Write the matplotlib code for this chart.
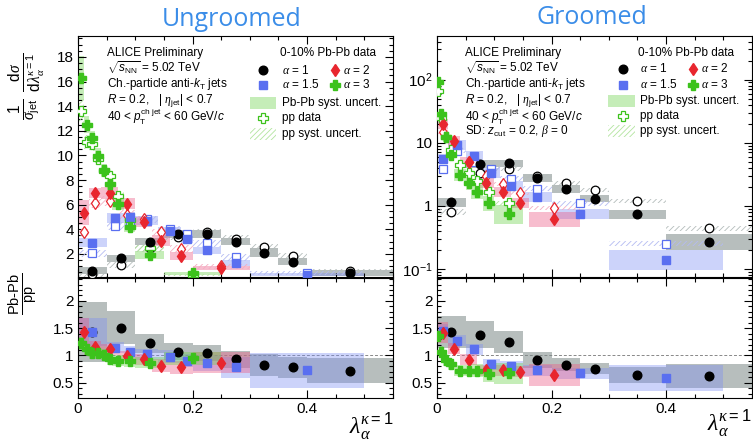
import matplotlib
matplotlib.use('Agg')
import matplotlib.pyplot as plt
import numpy as np
from matplotlib.patches import Rectangle
from matplotlib.lines import Line2D
from matplotlib.ticker import MultipleLocator, FuncFormatter, LogLocator, NullFormatter, FixedLocator

plt.rcParams['font.family'] = ['Liberation Sans', 'DejaVu Sans']
plt.rcParams['mathtext.fontset'] = 'custom'
plt.rcParams['mathtext.rm'] = 'Liberation Sans'
plt.rcParams['mathtext.it'] = 'Liberation Sans:italic'
plt.rcParams['mathtext.bf'] = 'Liberation Sans:bold'
plt.rcParams['mathtext.sf'] = 'Liberation Serif:italic'
plt.rcParams['hatch.linewidth'] = 0.6

# ---------------- data: ungroomed ----------------
UG_A1_EDGES = [0, 0.05, 0.1, 0.15, 0.2, 0.25, 0.3, 0.35, 0.4, 0.55]
UG_A1_PBPB = [0.65, 1.65, 3.0, 3.63, 3.63, 3.0, 2.1, 1.37, 0.43]
UG_A1_PBPB_SYST = [0.3, 0.3, 0.3, 0.3, 0.3, 0.3, 0.35, 0.3, 0.25]
UG_A1_PP = [0.4, 1.1, 2.45, 3.4, 3.75, 3.2, 2.55, 1.85, 0.6]
UG_A1_PP_SYST = [0.25, 0.25, 0.3, 0.3, 0.3, 0.3, 0.3, 0.25, 0.15]
UG_A1_RATIO = [1.43, 1.51, 1.22, 1.07, 1.04, 0.93, 0.82, 0.78, 0.72]
UG_A1_RATIO_SYST = [0.55, 0.3, 0.18, 0.15, 0.15, 0.16, 0.2, 0.2, 0.23]

UG_A15_EDGES = [0, 0.05, 0.08, 0.1, 0.14, 0.18, 0.2, 0.25, 0.3, 0.5]
UG_A15_PBPB = [2.92, 4.9, 5.0, 4.7, 3.87, 3.2, 2.3, 1.25, 0.3]
UG_A15_PBPB_SYST = [0.35, 0.4, 0.4, 0.35, 0.35, 0.3, 0.3, 0.25, 0.12]
UG_A15_PP = [2.05, 4.27, 4.6, 4.8, 4.0, 3.6, 2.87, 1.73, 0.45]
UG_A15_PP_SYST = [0.3, 0.35, 0.35, 0.3, 0.3, 0.3, 0.3, 0.3, 0.15]
UG_A15_RATIO = [1.43, 1.14, 1.07, 1.02, 0.98, 0.9, 0.86, 0.78, 0.73]
UG_A15_RATIO_SYST = [0.25, 0.1, 0.1, 0.1, 0.12, 0.12, 0.15, 0.2, 0.32]

UG_A2_EDGES = [0, 0.02, 0.04, 0.07, 0.1, 0.13, 0.16, 0.2, 0.3]
UG_A2_PBPB = [5.35, 6.93, 6.93, 6.07, 4.6, 3.08, 1.84, 0.84]
UG_A2_PBPB_SYST = [1.0, 0.4, 0.5, 0.45, 0.4, 0.45, 0.35, 0.18]
UG_A2_PP = [3.76, 6.12, 6.3, 5.2, 4.8, 3.76, 2.4, 1.0]
UG_A2_PP_SYST = [0.3, 0.35, 0.4, 0.35, 0.3, 0.3, 0.3, 0.2]
UG_A2_RATIO = [1.43, 1.15, 1.11, 0.99, 0.93, 0.81, 0.78, 0.87]
UG_A2_RATIO_SYST = [0.25, 0.12, 0.1, 0.1, 0.1, 0.12, 0.12, 0.2]

UG_A3_EDGES = [0, 0.01, 0.02, 0.03, 0.04, 0.05, 0.06, 0.08, 0.1, 0.15, 0.25]
UG_A3_PBPB = [16.3, 12.5, 11.4, 9.97, 8.83, 7.7, 6.07, 4.2, 1.92, 0.43]
UG_A3_PBPB_SYST = [1.8, 0.7, 0.6, 0.6, 0.5, 0.5, 0.5, 0.4, 0.35, 0.12]
UG_A3_PP = [13.6, 11.1, 10.9, 9.7, 8.7, 8.3, 6.7, 4.76, 2.46, 0.3]
UG_A3_PP_SYST = [1.0, 0.6, 0.5, 0.5, 0.5, 0.5, 0.4, 0.35, 0.3, 0.1]
UG_A3_RATIO = [1.22, 1.11, 1.04, 1.04, 1.01, 0.93, 0.9, 0.89, 0.87, 0.95]
UG_A3_RATIO_SYST = [0.12, 0.1, 0.1, 0.1, 0.1, 0.1, 0.1, 0.1, 0.1, 0.12]

# ---------------- data: groomed (relative syst) ----------------
GR_A1_EDGES = [0, 0.05, 0.1, 0.15, 0.2, 0.25, 0.3, 0.4, 0.55]
GR_A1_PBPB = [1.13, 4.6, 4.7, 2.78, 1.84, 1.3, 0.73, 0.27]
GR_A1_PBPB_SYST = [0.18, 0.15, 0.15, 0.15, 0.15, 0.15, 0.17, 0.33]
GR_A1_PP = [0.8, 3.3, 3.8, 3.0, 2.26, 1.78, 1.19, 0.44]
GR_A1_PP_SYST = [0.1, 0.08, 0.08, 0.08, 0.08, 0.08, 0.08, 0.1]
GR_A1_RATIO = [1.43, 1.38, 1.25, 0.92, 0.83, 0.76, 0.64, 0.62]
GR_A1_RATIO_SYST = [0.3, 0.25, 0.2, 0.15, 0.12, 0.1, 0.15, 0.22]

GR_A15_EDGES = [0, 0.02, 0.05, 0.08, 0.11, 0.15, 0.2, 0.3, 0.5]
GR_A15_PBPB = [5.6, 9.2, 6.1, 3.26, 2.08, 1.39, 0.73, 0.14]
GR_A15_PBPB_SYST = [0.2, 0.2, 0.2, 0.2, 0.2, 0.2, 0.2, 0.45]
GR_A15_PP = [3.9, 7.5, 5.0, 3.9, 2.7, 1.88, 1.09, 0.25]
GR_A15_PP_SYST = [0.08, 0.08, 0.08, 0.08, 0.08, 0.08, 0.08, 0.1]
GR_A15_RATIO = [1.45, 1.27, 1.11, 0.84, 0.8, 0.73, 0.67, 0.58]
GR_A15_RATIO_SYST = [0.12, 0.1, 0.1, 0.1, 0.1, 0.1, 0.1, 0.24]

GR_A2_EDGES = [0, 0.02, 0.04, 0.07, 0.1, 0.13, 0.16, 0.25]
GR_A2_PBPB = [20, 10.7, 5.0, 2.26, 1.67, 1.09, 0.61]
GR_A2_PBPB_SYST = [0.2, 0.2, 0.2, 0.2, 0.2, 0.2, 0.33]
GR_A2_PP = [15, 9.0, 5.0, 3.0, 2.2, 1.62, 0.93]
GR_A2_PP_SYST = [0.08, 0.08, 0.08, 0.08, 0.08, 0.08, 0.08]
GR_A2_RATIO = [1.42, 1.12, 0.92, 0.73, 0.73, 0.7, 0.64]
GR_A2_RATIO_SYST = [0.2, 0.1, 0.1, 0.1, 0.1, 0.1, 0.2]

GR_A3_EDGES = [0, 0.005, 0.01, 0.02, 0.03, 0.05, 0.06, 0.08, 0.1, 0.15]
GR_A3_PBPB = [93, 28, 12.4, 6.5, 3.07, 2.26, 1.67, 1.09, 0.73]
GR_A3_PBPB_SYST = [0.15, 0.2, 0.2, 0.2, 0.25, 0.25, 0.3, 0.3, 0.4]
GR_A3_PP = [66, 25, 12.5, 7.6, 4.4, 3.26, 2.5, 1.67, 1.09]
GR_A3_PP_SYST = [0.08, 0.08, 0.08, 0.08, 0.08, 0.08, 0.08, 0.08, 0.08]
GR_A3_RATIO = [1.36, 1.07, 0.91, 0.84, 0.72, 0.72, 0.72, 0.66, 0.67]
GR_A3_RATIO_SYST = [0.1, 0.1, 0.1, 0.1, 0.1, 0.1, 0.12, 0.15, 0.2]

ALPHA_LABELS = ['1', '1.5', '2', '3']

# ---------------- styles ----------------
STYLES = [
    dict(color='black', marker='o', ms=6.2, fill='#7d8a88', falpha=0.55, hatch='#b4bcbb'),
    dict(color='#5a6ff0', marker='s', ms=5.6, fill='#7b8cf2', falpha=0.38, hatch='#b4bbf2'),
    dict(color='#e8262e', marker='d', ms=6.5, fill='#ec5a85', falpha=0.40, hatch='#f4adc2'),
    dict(color='#3cc21c', marker='P', ms=7.5, fill='#6fd24f', falpha=0.40, hatch='#b2e49e'),
]

W, H = 753, 440
fig = plt.figure(figsize=(W / 100, H / 100), dpi=100)


def fx(px):
    return px / W


def fy(py):
    return 1 - py / H


def add_axes(l, r, t, b):
    return fig.add_axes([l / W, 1 - b / H, (r - l) / W, (b - t) / H])


def centers(edges):
    e = np.asarray(edges, float)
    return 0.5 * (e[1:] + e[:-1])


def boxes(ax, edges, vals, syst, rel, z, **kw):
    e = np.asarray(edges, float)
    for i, v in enumerate(vals):
        if rel:
            lo, hi = v / (1 + syst[i]), v * (1 + syst[i])
        else:
            lo, hi = v - syst[i], v + syst[i]
        ax.add_patch(Rectangle((e[i], lo), e[i + 1] - e[i], hi - lo, zorder=z, **kw))


def style_axes(ax):
    ax.tick_params(which='both', direction='in', top=True, right=True, width=0.8,
                   labelsize=11, pad=3)
    ax.tick_params(which='major', length=5.5)
    ax.tick_params(which='minor', length=2.8)
    for s in ax.spines.values():
        s.set_linewidth(0.8)
    ax.xaxis.set_major_locator(MultipleLocator(0.2))
    ax.xaxis.set_minor_locator(MultipleLocator(0.05))


def fmt_g(v, pos):
    return '%g' % v


def panel(ax_top, ax_rat, series, log):
    for (edges, pb, pbs, pp, pps, rat, rats), st in zip(series, STYLES):
        boxes(ax_top, edges, pb, pbs, log, 1, facecolor=st['fill'], alpha=st['falpha'], lw=0)
        boxes(ax_top, edges, pp, pps, log, 2, fill=False, hatch='//////',
              edgecolor=st['hatch'], lw=0)
        boxes(ax_rat, edges, rat, rats, False, 1, facecolor=st['fill'], alpha=st['falpha'], lw=0)
    for (edges, pb, pbs, pp, pps, rat, rats), st in zip(series, STYLES):
        c = centers(edges)
        ax_top.plot(c, pp, ls='none', marker=st['marker'], ms=st['ms'], mfc='white',
                    mec=st['color'], mew=0.9, zorder=3)
    for (edges, pb, pbs, pp, pps, rat, rats), st in zip(series, STYLES):
        c = centers(edges)
        ax_top.plot(c, pb, ls='none', marker=st['marker'], ms=st['ms'], color=st['color'],
                    mec=st['color'], zorder=4)
        ax_rat.plot(c, rat, ls='none', marker=st['marker'], ms=st['ms'], color=st['color'],
                    mec=st['color'], zorder=4)
    ax_rat.axhline(1.0, color='#888888', lw=0.7, ls=(0, (3, 2)), zorder=0.5)
    for ax in (ax_top, ax_rat):
        ax.set_xlim(0, 0.55)
        style_axes(ax)
    ax_top.tick_params(labelbottom=False)
    ax_rat.set_ylim(0.22, 2.42)
    ax_rat.yaxis.set_major_locator(FixedLocator([0.5, 1, 1.5, 2]))
    ax_rat.yaxis.set_minor_locator(MultipleLocator(0.1))
    ax_rat.yaxis.set_major_formatter(FuncFormatter(fmt_g))
    ax_rat.xaxis.set_major_formatter(FuncFormatter(fmt_g))


ug_series = [
    (UG_A1_EDGES, UG_A1_PBPB, UG_A1_PBPB_SYST, UG_A1_PP, UG_A1_PP_SYST, UG_A1_RATIO, UG_A1_RATIO_SYST),
    (UG_A15_EDGES, UG_A15_PBPB, UG_A15_PBPB_SYST, UG_A15_PP, UG_A15_PP_SYST, UG_A15_RATIO, UG_A15_RATIO_SYST),
    (UG_A2_EDGES, UG_A2_PBPB, UG_A2_PBPB_SYST, UG_A2_PP, UG_A2_PP_SYST, UG_A2_RATIO, UG_A2_RATIO_SYST),
    (UG_A3_EDGES, UG_A3_PBPB, UG_A3_PBPB_SYST, UG_A3_PP, UG_A3_PP_SYST, UG_A3_RATIO, UG_A3_RATIO_SYST),
]
gr_series = [
    (GR_A1_EDGES, GR_A1_PBPB, GR_A1_PBPB_SYST, GR_A1_PP, GR_A1_PP_SYST, GR_A1_RATIO, GR_A1_RATIO_SYST),
    (GR_A15_EDGES, GR_A15_PBPB, GR_A15_PBPB_SYST, GR_A15_PP, GR_A15_PP_SYST, GR_A15_RATIO, GR_A15_RATIO_SYST),
    (GR_A2_EDGES, GR_A2_PBPB, GR_A2_PBPB_SYST, GR_A2_PP, GR_A2_PP_SYST, GR_A2_RATIO, GR_A2_RATIO_SYST),
    (GR_A3_EDGES, GR_A3_PBPB, GR_A3_PBPB_SYST, GR_A3_PP, GR_A3_PP_SYST, GR_A3_RATIO, GR_A3_RATIO_SYST),
]

# ---------- left (ungroomed) ----------
axLt = add_axes(78, 393, 36, 277)
axLr = add_axes(78, 393, 278, 398)
panel(axLt, axLr, ug_series, log=False)
axLt.set_ylim(0.13, 19.7)
axLt.yaxis.set_major_locator(MultipleLocator(2))
axLt.yaxis.set_minor_locator(MultipleLocator(0.5))
axLt.yaxis.set_major_formatter(FuncFormatter(lambda v, p: '' if v < 1 else '%g' % v))

# ---------- right (groomed) ----------
axRt = add_axes(437, 752, 36, 277)
axRr = add_axes(437, 752, 278, 398)
axRt.set_yscale('log')
panel(axRt, axRr, gr_series, log=True)
axRt.set_ylim(0.0746, 490)
axRt.yaxis.set_major_locator(LogLocator(base=10, numticks=10))
axRt.yaxis.set_minor_locator(LogLocator(base=10, subs=np.arange(2, 10), numticks=20))
axRt.yaxis.set_minor_formatter(NullFormatter())
LOGLAB = {2: '10$^{\\mathregular{2}}$', 1: '10', 0: '1', -1: '10$^{\\mathregular{-1}}$'}
axRt.yaxis.set_major_formatter(FuncFormatter(
    lambda v, p: LOGLAB.get(int(round(np.log10(v))), '') if v > 0 else ''))

# ---------- titles / labels ----------
fig.text(fx(232), fy(20), 'Ungroomed', color='#3b8de8', fontsize=18,
         family=['Open Sans', 'DejaVu Sans'], ha='center', va='center')
fig.text(fx(592), fy(17), 'Groomed', color='#3b8de8', fontsize=18,
         family=['Open Sans', 'DejaVu Sans'], ha='center', va='center')
fig.text(fx(27), fy(86),
         r'$\frac{1}{\mathsf{\sigma}_{\mathrm{jet}}}\ \frac{\mathrm{d}\mathsf{\sigma}}{\mathrm{d}\mathsf{\lambda}_{\mathsf{\alpha}}^{\mathsf{\kappa}\mathrm{=1}}}$',
         rotation=90, fontsize=16, ha='center', va='center')
fig.text(fx(23), fy(294), r'$\frac{\mathrm{Pb\text{-}Pb}}{\mathrm{pp}}$',
         rotation=90, fontsize=15, ha='center', va='center')
fig.text(fx(394), fy(426), r'$\mathsf{\lambda}_{\mathsf{\alpha}}^{\mathsf{\kappa}\mathrm{=1}}$',
         fontsize=17, ha='right', va='center')
fig.text(fx(752), fy(423), r'$\mathsf{\lambda}_{\mathsf{\alpha}}^{\mathsf{\kappa}\mathrm{=1}}$',
         fontsize=17, ha='right', va='center')

# ---------- annotation blocks ----------
FS = 8.5


def info_block(x0, lines):
    for py, s in lines:
        fig.text(fx(x0), fy(py), s, fontsize=FS, ha='left', va='center')


common = [
    (53, 'ALICE Preliminary'),
    (68, r'$\sqrt{s_{\mathrm{NN}}}$ = 5.02 TeV'),
    (84, r'Ch.-particle anti-$k_{\mathrm{T}}$ jets'),
    (101, r'$R$ = 0.2,   | $\mathsf{\eta}_{\mathrm{jet}}$| < 0.7'),
    (117, r'40 < $p_{\mathrm{T}}^{\mathrm{ch\ jet}}$ < 60 GeV/$c$'),
]
info_block(107, common)
info_block(465, [(py - 0.5, s) for py, s in common]
           + [(131, r'SD: $z_{\mathrm{cut}}$ = 0.2, $\mathsf{\beta}$ = 0')])


def add_marker(px, py, st, open_=False):
    fig.add_artist(Line2D([fx(px)], [fy(py)], transform=fig.transFigure, ls='none',
                          marker=st['marker'], ms=st['ms'],
                          mfc='white' if open_ else st['color'], mec=st['color'],
                          mew=0.9 if open_ else 1.0))


def alpha_text(v):
    return r'$\mathsf{\alpha}$ = ' + v


def legend_block(title_x, mx1, mx2, tx2, rx0, rx1, ys):
    y0, y1, y2, y3, y4, y5 = ys
    fig.text(fx(title_x), fy(y0), '0-10% Pb-Pb data', fontsize=FS, ha='left', va='center')
    add_marker(mx1, y1, STYLES[0])
    fig.text(fx(title_x + 2), fy(y1), alpha_text(ALPHA_LABELS[0]), fontsize=FS, va='center')
    add_marker(mx2, y1, STYLES[2])
    fig.text(fx(tx2), fy(y1), alpha_text(ALPHA_LABELS[2]), fontsize=FS, va='center')
    add_marker(mx1, y2, STYLES[1])
    fig.text(fx(title_x + 2), fy(y2), alpha_text(ALPHA_LABELS[1]), fontsize=FS, va='center')
    add_marker(mx2, y2, STYLES[3])
    fig.text(fx(tx2), fy(y2), alpha_text(ALPHA_LABELS[3]), fontsize=FS, va='center')
    st = STYLES[3]
    fig.add_artist(Rectangle((fx(rx0), fy(y3 + 6)), (rx1 - rx0) / W, 12 / H,
                             transform=fig.transFigure, facecolor=st['fill'],
                             alpha=st['falpha'], lw=0))
    fig.text(fx(title_x + 2), fy(y3), 'Pb-Pb syst. uncert.', fontsize=FS, va='center')
    add_marker(mx1, y4, st, open_=True)
    fig.text(fx(title_x + 2), fy(y4), 'pp data', fontsize=FS, va='center')
    fig.add_artist(Rectangle((fx(rx0), fy(y5 + 6)), (rx1 - rx0) / W, 12 / H,
                             transform=fig.transFigure, fill=False, hatch='//////',
                             edgecolor=st['hatch'], lw=0))
    fig.text(fx(title_x + 2), fy(y5), 'pp syst. uncert.', fontsize=FS, va='center')


legend_block(280, 263, 335, 343, 250, 276, (53, 70, 85, 103, 118, 134))
legend_block(638, 623, 693, 701, 608, 635, (53, 69, 85, 101, 116, 131))

fig.savefig('out.png', dpi=100)
